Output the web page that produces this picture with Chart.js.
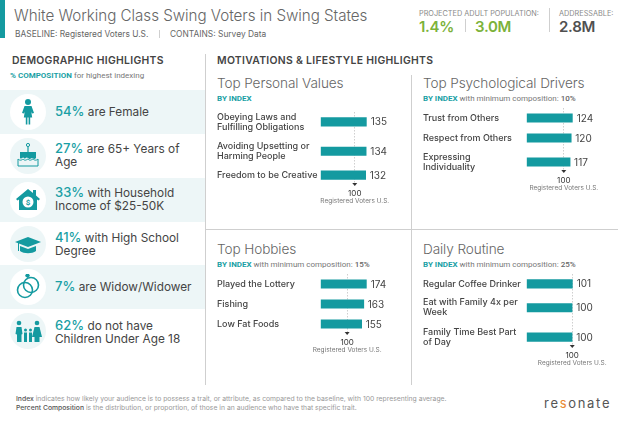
<!DOCTYPE html>
<html>
<head>
<meta charset="utf-8">
<title>White Working Class Swing Voters in Swing States</title>
<script src="https://cdn.jsdelivr.net/npm/chart.js@4"></script>
<style>
  html, body { margin: 0; padding: 0; background: #fff; }
  #page { position: relative; width: 624px; height: 426px; overflow: hidden; font-family: Inter, "Open Sans", sans-serif; color: #444; }
  #page div, #page canvas, #page svg { position: absolute; }
  .nowrap { white-space: nowrap; }
  .rule { background: #cfcfcf; }
  .head { font-size: 10.4px; font-weight: 600; color: #444; white-space: nowrap; letter-spacing: .3px; }
  .panelTitle { font-size: 13.6px; font-weight: 300; color: #666; white-space: nowrap; letter-spacing: -.1px; }
  .sub { font-family: Roboto, sans-serif; font-size: 8px; color: #777; white-space: nowrap; }
  .sub b { color: #1a9fa5; font-weight: 700; }
  .sub i { font-style: normal; font-weight: 500; color: #666; }
  .stat { font-size: 7.3px; color: #8a8a8a; white-space: nowrap; }
  .big { font-size: 15px; font-weight: 600; white-space: nowrap; letter-spacing: -.3px; }
  .band { left: 0; width: 205px; height: 44px; background: #edf6f7; }
  .circle { left: 9.5px; width: 36px; height: 36px; border-radius: 50%; }
  .demo { left: 55px; font-size: 11.8px; line-height: 13px; color: #444; width: 142px; }
  .demo span { color: #1a9fa5; font-size: 13px; font-weight: 500; }
  .foot { left: 16px; font-size: 6.8px; color: #999; white-space: nowrap; }
  .foot b { color: #555; font-weight: 500; }
</style>
</head>
<body>
<div id="page">
  <div style="left:0;top:0;width:5px;height:38px;background:#149aa0"></div>
  <div class="nowrap" style="left:14px;top:6px;font-size:15.2px;font-weight:300;color:#666;letter-spacing:-.04px">White Working Class Swing Voters in Swing States</div>
  <div class="nowrap" style="left:15px;top:29px;font-size:8.4px;color:#666">BASELINE: Registered Voters U.S.</div>
  <div class="rule" style="left:159px;top:30px;width:1px;height:8px"></div>
  <div class="nowrap" style="left:170px;top:29px;font-size:8.4px;color:#666">CONTAINS: Survey Data</div>

  <div class="stat" style="left:419px;top:9px">PROJECTED ADULT POPULATION:</div>
  <div class="big" style="left:419px;top:17px;color:#7cb23a">1.4%</div>
  <div class="rule" style="left:465px;top:19px;width:1px;height:13px"></div>
  <div class="big" style="left:475px;top:17px;color:#7cb23a">3.0M</div>
  <div class="rule" style="left:549px;top:8px;width:1px;height:24px"></div>
  <div class="stat" style="left:559px;top:9px">ADDRESSABLE:</div>
  <div class="big" style="left:559px;top:17px;color:#505050">2.8M</div>

  <div class="head" style="left:12px;top:54px">DEMOGRAPHIC HIGHLIGHTS</div>
  <div class="sub" style="left:10px;top:71px"><b>% COMPOSITION</b> for highest indexing</div>
  <div class="head" style="left:217px;top:54px">MOTIVATIONS &amp; LIFESTYLE HIGHLIGHTS</div>

  <div class="band" style="top:90px"></div>
  <div class="band" style="top:178px"></div>
  <div class="band" style="top:265px"></div>

  <div class="rule" style="left:205px;top:54px;width:1px;height:331px"></div>
  <div class="rule" style="left:411px;top:75px;width:1px;height:310px"></div>
  <div class="rule" style="left:206px;top:229px;width:412px;height:1px"></div>

  <div class="panelTitle" style="left:217px;top:75px">Top Personal Values</div>
  <div class="sub" style="left:217px;top:94px"><b>BY INDEX</b></div>
  <div class="panelTitle" style="left:423px;top:75px">Top Psychological Drivers</div>
  <div class="sub" style="left:423px;top:94px"><b>BY INDEX</b> with minimum composition: <i>10%</i></div>
  <div class="panelTitle" style="left:217px;top:241px">Top Hobbies</div>
  <div class="sub" style="left:217px;top:260px"><b>BY INDEX</b> with minimum composition: <i>15%</i></div>
  <div class="panelTitle" style="left:423px;top:241px">Daily Routine</div>
  <div class="sub" style="left:423px;top:260px"><b>BY INDEX</b> with minimum composition: <i>25%</i></div>

  <div class="foot" style="top:394px"><b>Index</b> indicates how likely your audience is to possess a trait, or attribute, as compared to the baseline, with 100 representing average.</div>
  <div class="foot" style="top:403px"><b>Percent Composition</b> is the distribution, or proportion, of those in an audience who have that specific trait.</div>
  <div class="nowrap" style="left:544px;top:395px;font-size:13px;letter-spacing:1.7px;color:#555;font-weight:400">re<span style="color:#e8862e">s</span>onate</div>
</div>

<script>
// Demographic rows
const demoPercents = ['54%', '27%', '33%', '41%', '7%', '62%'];
const demoTexts = ['are Female', 'are 65+ Years of Age', 'with Household Income of $25-50K', 'with High School Degree', 'are Widow/Widower', 'do not have Children Under Age 18'];

// Bar panels
const personalLabels = [['Obeying Laws and', 'Fulfilling Obligations'], ['Avoiding Upsetting or', 'Harming People'], ['Freedom to be Creative']];
const personalValues = [135, 134, 132];
const driverLabels = [['Trust from Others'], ['Respect from Others'], ['Expressing', 'Individuality']];
const driverValues = [124, 120, 117];
const hobbyLabels = [['Played the Lottery'], ['Fishing'], ['Low Fat Foods']];
const hobbyValues = [174, 163, 155];
const routineLabels = [['Regular Coffee Drinker'], ['Eat with Family 4x per', 'Week'], ['Family Time Best Part', 'of Day']];
const routineValues = [101, 100, 100];

const baselineValue = 100;
const baselineName = 'Registered Voters U.S.';
const TEAL = '#149aa0';

// Small icons for the demographic rows
const icons = [
  '<circle cx="18" cy="8" r="3" fill="T"/><path d="M14.5 12h7l2.5 7-2 .6-.8-2 1 6h-2v7h-1.6v-7h-1.2v7h-1.6v-7h-2l1-6-.8 2-2-.6z" fill="T"/>',
  '<circle cx="18" cy="7" r="1.6" fill="none" stroke="T"/><rect x="17.4" y="9" width="1.2" height="5" fill="T"/><path d="M10 14h16v6c-2 2-3 0-4 0s-2 2-4 0-3 2-4 0-3 2-4 0z" fill="T"/><path d="M8 21c2 2 4 1 5 0 2 2 3 1 5 0 2 2 3 1 5 0 1 1 3 2 5 0v7H8z" fill="none" stroke="T"/>',
  '<path d="M18 7l5 4V8h3v5.500l4 3.500-1.500 1.500-1.500-1V28H9V17.500l-1.500 1L6 17z" fill="T"/><circle cx="18" cy="20" r="5.500" fill="#fff"/><text x="18" y="23" font-size="8" font-weight="700" text-anchor="middle" fill="T" font-family="Roboto">$</text>',
  '<path d="M18 11l13 5-13 5-13-5z" fill="T"/><path d="M10 20v5c4 3 12 3 16 0v-5l-8 3z" fill="T"/><rect x="8" y="17" width="1" height="8" fill="T"/>',
  '<circle cx="15" cy="21" r="7.500" fill="none" stroke="T" stroke-width="1.600"/><circle cx="21" cy="16" r="7.500" fill="none" stroke="T" stroke-width="1.600"/><path d="M16 5h3l1 2-2.500 2L15 7z" fill="T"/>',
  '<circle cx="9" cy="10" r="2.300" fill="T"/><path d="M6.500 14h5l1 7-1 .5V29H7v-7.500L5.500 21z" fill="T"/><circle cx="27" cy="10" r="2.300" fill="T"/><path d="M24.500 14h5l2.500 10h-2.500v5h-5v-5H22z" fill="T"/><circle cx="15.500" cy="17" r="1.500" fill="T"/><rect x="14" y="19.500" width="3" height="9.500" fill="T"/><circle cx="20.500" cy="17" r="1.500" fill="T"/><rect x="19" y="19.500" width="3" height="9.500" fill="T"/>'
];

// Fill in the left column
const page = document.getElementById('page');
const rowCenters = [112, 156, 200, 243.5, 287, 331];
const rowTextTop = [105, 142, 186, 231, 280, 319];
demoPercents.forEach((pct, i) => {
  const tinted = i % 2 === 0;
  const circle = document.createElement('div');
  circle.className = 'circle';
  circle.style.top = (rowCenters[i] - 18) + 'px';
  circle.style.background = tinted ? '#fff' : '#edf6f7';
  page.appendChild(circle);

  const svg = document.createElementNS('http://www.w3.org/2000/svg', 'svg');
  svg.setAttribute('viewBox', '0 0 36 36');
  svg.setAttribute('width', 36);
  svg.setAttribute('height', 36);
  svg.style.left = '9.5px';
  svg.style.top = (rowCenters[i] - 18) + 'px';
  svg.innerHTML = icons[i].replace(/"T"/g, '"' + TEAL + '"');
  page.appendChild(svg);

  const text = document.createElement('div');
  text.className = 'demo';
  text.style.top = rowTextTop[i] + 'px';
  const line = document.createElement('span');
  line.textContent = pct;
  text.appendChild(line);
  text.appendChild(document.createTextNode(' ' + demoTexts[i]));
  page.appendChild(text);
});

// Row spacing depends on how many lines the two neighbouring labels take
const ROW_GAPS = [20, 24, 29.5];
function rowPositions(labels) {
  const rows = [0];
  for (let i = 1; i < labels.length; i++) {
    rows.push(rows[i - 1] + ROW_GAPS[labels[i - 1].length + labels[i].length - 2]);
  }
  return rows;
}

// Value labels, marker and baseline caption, all placed from the chart's scales
const barExtras = {
  id: 'barExtras',
  afterDatasetsDraw(chart) {
    const ctx = chart.ctx;
    const x = chart.scales.x.getPixelForValue(baselineValue);
    const bottom = chart.chartArea.bottom;
    ctx.save();
    ctx.font = '10px Inter';
    ctx.fillStyle = '#444';
    ctx.textBaseline = 'middle';
    ctx.textAlign = 'left';
    chart.getDatasetMeta(0).data.forEach((bar, i) => {
      ctx.fillText(chart.data.datasets[0].data[i].x, bar.x + 4, bar.y + 0.5);
    });
    ctx.fillStyle = '#333';
    ctx.beginPath();
    ctx.moveTo(x - 2.5, bottom - 1);
    ctx.lineTo(x + 2.5, bottom - 1);
    ctx.lineTo(x, bottom + 2);
    ctx.fill();
    ctx.font = '6.5px Inter';
    ctx.fillStyle = '#777';
    ctx.textAlign = 'center';
    ctx.fillText(baselineName, x, bottom + 17);
    ctx.restore();
  }
};

// The label padding Chart.js reserves would shrink the plot, the rows must keep their spacing
function clearPadding(scale) {
  scale.paddingTop = 0;
  scale.paddingBottom = 0;
  scale.paddingLeft = 0;
  scale.paddingRight = 0;
}

function createPanel(left, firstRowY, labels, values) {
  const rows = rowPositions(labels);
  const lastRow = rows[rows.length - 1];
  const areaHeight = lastRow + 19;
  const canvas = document.createElement('canvas');
  canvas.width = 195;
  canvas.height = areaHeight + 34;
  canvas.style.left = left + 'px';
  canvas.style.top = (firstRowY - 14) + 'px';
  page.appendChild(canvas);

  new Chart(canvas, {
    type: 'bar',
    data: {
      datasets: [{
        data: values.map((v, i) => ({ x: v, y: rows[i] })),
        backgroundColor: TEAL,
        barThickness: 8.5
      }]
    },
    options: {
      indexAxis: 'y',
      responsive: false,
      animation: false,
      layout: { padding: { top: 4, right: 45.3, left: 0, bottom: 0 } },
      plugins: { legend: { display: false }, tooltip: { enabled: false } },
      scales: {
        x: {
          type: 'linear',
          min: 0,
          max: Math.max(...values),
          afterBuildTicks: scale => { scale.ticks = [{ value: baselineValue }]; },
          afterFit: scale => { scale.height = 30; clearPadding(scale); },
          grid: { color: '#cfcfcf', drawTicks: false },
          border: { display: false, dash: [1.5, 1.5] },
          ticks: { padding: 5, font: { family: 'Inter', size: 8 }, color: '#333', maxRotation: 0 }
        },
        y: {
          type: 'linear',
          reverse: true,
          offset: false,
          min: -10,
          max: lastRow + 9,
          afterBuildTicks: scale => { scale.ticks = rows.map(r => ({ value: r })); },
          afterFit: scale => { scale.width = 103.7; clearPadding(scale); },
          grid: { display: false, drawTicks: false, offset: false },
          border: { display: false },
          ticks: {
            autoSkip: false,
            crossAlign: 'far',
            padding: 0,
            font: { family: 'Inter', size: 9, weight: '500', lineHeight: 1.11 },
            color: '#444',
            callback: value => labels[rows.indexOf(value)]
          }
        }
      }
    },
    plugins: [barExtras]
  });
}

createPanel(217, 122, personalLabels, personalValues);
createPanel(423, 118, driverLabels, driverValues);
createPanel(217, 284, hobbyLabels, hobbyValues);
createPanel(423, 284, routineLabels, routineValues);
</script>
</body>
</html>
